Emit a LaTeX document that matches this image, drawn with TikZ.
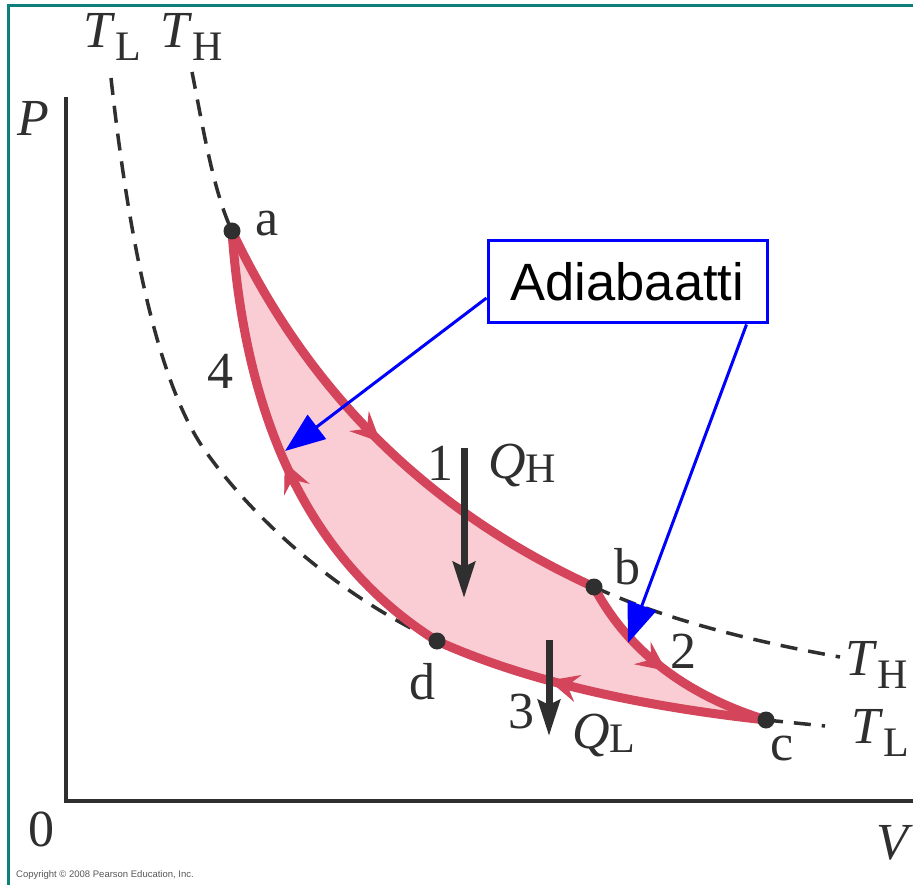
\documentclass[tikz,border=0pt]{standalone}
\usepackage{fontspec}
\setmainfont{Liberation Serif}
\newfontfamily\sansf{Liberation Sans}
\usetikzlibrary{arrows.meta,decorations.markings}
\definecolor{frameteal}{HTML}{0E7F7C}
\definecolor{cyred}{HTML}{D4445A}
\definecolor{cypink}{HTML}{F9CDD3}
\definecolor{ink}{HTML}{2F2F2F}
\definecolor{adblue}{HTML}{0000FF}
\newcommand{\Tsub}[1]{\textit{T}\raisebox{-13pt}{\fontsize{42}{42}\selectfont #1}}
\newcommand{\Qsub}[1]{\textit{Q}\raisebox{-4pt}{\fontsize{42}{42}\selectfont #1}}
\tikzset{
  lbl/.style={font=\fontsize{52}{52}\selectfont, text=ink, inner sep=0pt},
  isotherm/.style={draw=ink, line width=3.5pt, dash pattern=on 17pt off 11pt},
  cyc/.style={draw=cyred, line width=9pt, line cap=round, line join=round},
  cycarrow/.style={postaction={decorate, decoration={markings,
      mark=at position #1 with {\arrow{Stealth[length=30pt,width=28pt,inset=11pt,line width=1pt]}}}}},
  dotnode/.style={circle, fill=ink, minimum size=17pt, inner sep=0pt},
  axisline/.style={draw=ink, line width=4pt},
  qarrow/.style={draw=ink, line width=7pt, -{Stealth[length=36pt,width=22pt,inset=5pt]}},
  bluearrow/.style={draw=adblue, line width=3pt, -{Triangle[length=40pt,width=30pt]}},
}
\begin{document}
\begin{tikzpicture}[x=1pt,y=-1pt]
\useasboundingbox (0,0) rectangle (913,885);
\fill[white] (0,0) rectangle (913,885);
% frame
\draw[frameteal, line width=3pt] (8,885) -- (8,6) -- (913,6);
% axes
\coordinate (ytop) at (66,97);
\coordinate (orig) at (66,801);
\coordinate (xend) at (913,801);
\draw[axisline] (ytop) -- (orig) -- (xend);
% cycle corner points
\coordinate (a) at (232,231);
\coordinate (b) at (594,587);
\coordinate (c) at (766,720);
\coordinate (d) at (437,641);
% isotherms
\coordinate (tlTop) at (111,78);
\coordinate (tlMid) at (206,452);
\coordinate (thTop) at (192,72);
\coordinate (thEnd) at (840,657);
\coordinate (tlEnd) at (825,726);
\draw[isotherm] (tlTop) .. controls (132,268.4) and (163.6,393.1) .. (tlMid)
  .. controls (262,530) and (350,601) .. (d);
\draw[isotherm] (thTop) .. controls (202,122) and (213,191) .. (a);
\draw[isotherm] (b) .. controls (670.6,622) and (761.6,643) .. (thEnd);
\draw[isotherm] (c) -- (tlEnd);
% fill
\fill[cypink] (a) .. controls (308.5,393) and (429,511.7) .. (b)
  .. controls (627.5,650.3) and (685,694.7) .. (c)
  .. controls (630.7,705.1) and (521,678.8) .. (d)
  .. controls (314,564) and (245.7,427.5) .. (a) -- cycle;
% cycle strokes
\draw[cyc, cycarrow=0.5] (a) .. controls (308.5,393) and (429,511.7) .. (b);
\draw[cyc, cycarrow=0.5] (b) .. controls (627.5,650.3) and (685,694.7) .. (c);
\draw[cyc, cycarrow=0.65] (c) .. controls (630.7,705.1) and (521,678.8) .. (d);
\draw[cyc, cycarrow=0.5] (d) .. controls (314,564) and (245.7,427.5) .. (a);
% dots
\node[dotnode] (da) at (a) {};
\node[dotnode] (db) at (b) {};
\node[dotnode] (dc) at (c) {};
\node[dotnode] (dd) at (d) {};
% heat arrows
\coordinate (qh1) at (464,448);
\coordinate (qh2) at (464,598);
\coordinate (ql1) at (549,640);
\coordinate (ql2) at (549,736);
\draw[qarrow] (qh1) -- (qh2);
\draw[qarrow] (ql1) -- (ql2);
% labels
\node[lbl, anchor=base west] (lTLtop) at (83,48) {\Tsub{L}};
\node[lbl, anchor=base west] (lTHtop) at (160,48) {\Tsub{H}};
\node[lbl, anchor=base east] (lTHr) at (908,675) {\Tsub{H}};
\node[lbl, anchor=base east] (lTLr) at (909,743) {\Tsub{L}};
\node[lbl, anchor=base west] (lQH) at (488,478) {\Qsub{H}};
\node[lbl, anchor=base west] (lQL) at (572,748) {\Qsub{L}};
\node[lbl] (lP) at (33,118) {\textit{P}};
\node[lbl] (lV) at (895,843) {\textit{V}};
\node[lbl] (l0) at (41,829) {0};
\node[lbl] (l1) at (440,463) {1};
\node[lbl] (l2) at (683,651) {2};
\node[lbl] (l3) at (521,712) {3};
\node[lbl] (l4) at (220,371) {4};
\node[lbl] (la) at (267,224) {a};
\node[lbl] (lb) at (627,567) {b};
\node[lbl] (lc) at (782,748) {c};
\node[lbl] (ld) at (422,682) {d};
\node[anchor=base west, inner sep=0pt, text=ink!80, font=\sansf\fontsize{9.5}{9.5}\selectfont] (copy) at (16,877) {Copyright © 2008 Pearson Education, Inc.};
% annotation box and arrows
\node[draw=adblue, line width=3pt, fill=white, minimum width=279pt, minimum height=82pt, inner sep=0pt,
      font=\sansf\fontsize{52.5}{52.5}\selectfont] (adbox) at (627.5,282) {Adiabaatti};
\coordinate (tip1) at (285,451);
\coordinate (tip2) at (628,643);
\draw[bluearrow] ([yshift=-16pt]adbox.west) -- (tip1);
\draw[bluearrow] ([xshift=-22pt]adbox.south east) -- (tip2);
\end{tikzpicture}
\end{document}
